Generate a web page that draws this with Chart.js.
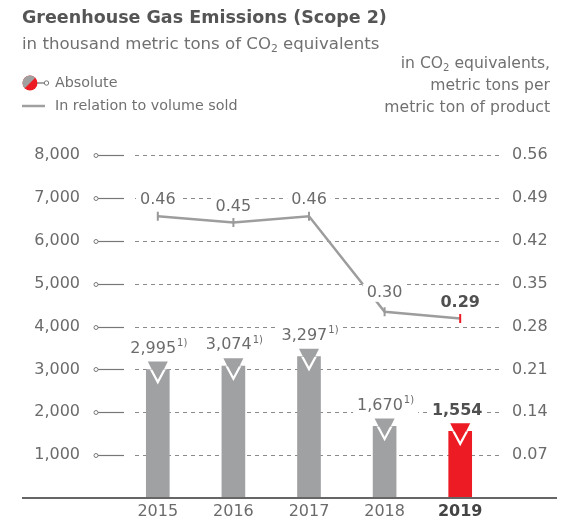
<!DOCTYPE html>
<html>
<head>
<meta charset="utf-8">
<script src="https://cdn.jsdelivr.net/npm/chart.js@4"></script>
<style>
  html, body { margin:0; padding:0; background:#fff; }
  body { width:566px; height:524px; position:relative; overflow:hidden; font-family: "DejaVu Sans", sans-serif; }
  #wrap { position:absolute; left:0; top:0; width:566px; height:524px; }
  canvas { display:block; }
  .t { position:absolute; white-space:nowrap; color:#707070; }
  #title { left:22px; top:7px; font-size:17.5px; font-weight:700; color:#555; }
  #sub { left:22px; top:34px; font-size:16.6px; }
  #leg1 { left:55px; top:74px; font-size:14.3px; }
  #leg2 { left:55px; top:97px; font-size:14.3px; }
  .r { right:16px; font-size:15.6px; text-align:right; }
  sub { font-size:0.65em; vertical-align:-0.25em; line-height:0; }
  svg { position:absolute; }
</style>
</head>
<body>
<div id="wrap"><canvas id="c" width="566" height="524"></canvas></div>
<div class="t" id="title">Greenhouse Gas Emissions (Scope 2)</div>
<div class="t" id="sub">in thousand metric tons of CO<sub>2</sub> equivalents</div>
<svg style="left:18px;top:73px" width="36" height="20">
  <defs><clipPath id="cc"><circle cx="12" cy="10" r="7.5"/></clipPath></defs>
  <g clip-path="url(#cc)">
    <rect x="0" y="0" width="30" height="20" fill="#ed1c24"/>
    <polygon points="0,0 24,0 0,24" fill="#a0a0a0" transform="translate(0,-2)"/>
  </g>
  <line x1="19" y1="10" x2="26" y2="10" stroke="#777" stroke-width="1.3"/>
  <circle cx="28.5" cy="10" r="2.2" fill="#fff" stroke="#777" stroke-width="1"/>
</svg>
<div class="t" id="leg1">Absolute</div>
<svg style="left:22px;top:100px" width="26" height="12">
  <line x1="0" y1="6" x2="23" y2="6" stroke="#a0a0a0" stroke-width="2.5"/>
</svg>
<div class="t" id="leg2">In relation to volume sold</div>
<div class="t r" style="top:54px">in CO<sub>2</sub> equivalents,</div>
<div class="t r" style="top:76px">metric tons per</div>
<div class="t r" style="top:98px">metric ton of product</div>
<script>
const years = ['2015', '2016', '2017', '2018', '2019'];
const absolute = [2995, 3074, 3297, 1670, 1554];
const absoluteNotes = ['1)', '1)', '1)', '1)', ''];
const relative = [0.46, 0.45, 0.46, 0.304, 0.293];
const leftTicks = [1000, 2000, 3000, 4000, 5000, 6000, 7000, 8000];
const rightTicks = [0.07, 0.14, 0.21, 0.28, 0.35, 0.42, 0.49, 0.56];

const GRAY = '#a0a1a3';
const RED = '#ed1c24';
const TXT = '#6b6b6b';
const FONT = '"DejaVu Sans", sans-serif';

const barColors = years.map((y, i) => i === years.length - 1 ? RED : GRAY);
const pointColors = years.map((y, i) => i === years.length - 1 ? RED : '#999');

const deco = {
  id: 'deco',
  beforeDatasetsDraw(chart) {
    const ctx = chart.ctx, y = chart.scales.y;
    ctx.save();
    leftTicks.forEach(v => {
      const py = Math.round(y.getPixelForValue(v)) + 0.5;
      ctx.strokeStyle = '#8a8a8a'; ctx.lineWidth = 1; ctx.setLineDash([4, 4]);
      ctx.beginPath(); ctx.moveTo(135, py); ctx.lineTo(503, py); ctx.stroke();
      ctx.setLineDash([]);
      ctx.strokeStyle = '#777'; ctx.lineWidth = 1.2;
      ctx.beginPath(); ctx.moveTo(98, py); ctx.lineTo(124, py); ctx.stroke();
      ctx.beginPath(); ctx.arc(96, py, 2, 0, Math.PI * 2);
      ctx.fillStyle = '#fff'; ctx.fill(); ctx.lineWidth = 1; ctx.stroke();
    });
    ctx.restore();
  },
  afterDatasetsDraw(chart) {
    const ctx = chart.ctx;
    const barMeta = chart.getDatasetMeta(0);
    const lineMeta = chart.getDatasetMeta(1);
    const base = chart.scales.y.getPixelForValue(0);
    ctx.save();
    ctx.strokeStyle = '#666'; ctx.lineWidth = 2;
    ctx.beginPath(); ctx.moveTo(22, base); ctx.lineTo(557, base); ctx.stroke();
    barMeta.data.forEach((el, i) => {
      const cx = el.x, top = el.y;
      ctx.fillStyle = barColors[i];
      ctx.beginPath();
      ctx.moveTo(cx - 10, top - 8); ctx.lineTo(cx + 10, top - 8); ctx.lineTo(cx, top + 12);
      ctx.closePath(); ctx.fill();
      ctx.save();
      ctx.beginPath(); ctx.rect(el.x - 20, top, 40, 40); ctx.clip();
      ctx.strokeStyle = '#fff'; ctx.lineWidth = 2.2; ctx.lineJoin = 'miter';
      ctx.beginPath();
      ctx.moveTo(cx - 11, top - 8); ctx.lineTo(cx, top + 12.5); ctx.lineTo(cx + 11, top - 8);
      ctx.stroke();
      ctx.restore();
    });
    ctx.textBaseline = 'middle';
    barMeta.data.forEach((el, i) => {
      const last = i === years.length - 1;
      const main = absolute[i].toLocaleString('en-US');
      const mainFont = (last ? 'bold ' : '') + '16px ' + FONT;
      const supFont = '10px ' + FONT;
      ctx.font = mainFont; const w1 = ctx.measureText(main).width;
      ctx.font = supFont; const w2 = absoluteNotes[i] ? ctx.measureText(absoluteNotes[i]).width + 1 : 0;
      const total = w1 + w2;
      const cy = el.y - 21;
      const x0 = el.x + (last ? -4 : 0) - total / 2 + 1;
      ctx.fillStyle = '#fff';
      ctx.fillRect(x0 - 4, cy - 9, total + 8, 18);
      ctx.textAlign = 'left';
      ctx.font = mainFont; ctx.fillStyle = last ? '#505050' : TXT;
      ctx.fillText(main, x0, cy);
      if (absoluteNotes[i]) {
        ctx.font = supFont; ctx.fillStyle = TXT;
        ctx.fillText(absoluteNotes[i], x0 + w1 + 1, cy - 5);
      }
    });
    lineMeta.data.forEach((el, i) => {
      const last = i === years.length - 1;
      const txt = relative[i].toFixed(2);
      ctx.font = (last ? 'bold ' : '') + '16px ' + FONT;
      const w = ctx.measureText(txt).width;
      const cy = el.y - (i === 3 ? 19 : 16);
      ctx.fillStyle = '#fff';
      ctx.fillRect(el.x - w / 2 - 4, cy - 9, w + 8, 18);
      ctx.textAlign = 'center';
      ctx.fillStyle = last ? '#505050' : TXT;
      ctx.fillText(txt, el.x, cy);
    });
    ctx.restore();
  }
};

new Chart(document.getElementById('c'), {
  data: {
    labels: years,
    datasets: [
      {
        type: 'bar', data: absolute, yAxisID: 'y', order: 2,
        backgroundColor: barColors, barThickness: 23, borderWidth: 0
      },
      {
        type: 'line', data: relative, yAxisID: 'y1', order: 1,
        borderColor: '#9d9d9d', borderWidth: 2.5, tension: 0,
        pointStyle: 'line', rotation: 90, pointRadius: 4.5, pointBorderWidth: 2,
        pointBorderColor: pointColors, pointBackgroundColor: pointColors
      }
    ]
  },
  options: {
    responsive: false, animation: false,
    layout: { padding: { top: 155, left: 0, right: 0, bottom: 0 } },
    plugins: { legend: { display: false }, tooltip: { enabled: false } },
    scales: {
      x: {
        grid: { display: false, drawTicks: false }, border: { display: false },
        offset: true,
        ticks: {
          padding: 4,
          font: ctx => ({ family: FONT, size: 16, weight: ctx.index === years.length - 1 ? 'bold' : 'normal' }),
          color: ctx => ctx.index === years.length - 1 ? '#444' : TXT
        },
        afterFit(s) { s.height = 26; s.paddingTop = 0; s.paddingBottom = 0; }
      },
      y: {
        position: 'left', min: 0, max: 8000,
        afterBuildTicks(s) { s.ticks = leftTicks.map(v => ({ value: v })); },
        grid: { display: false, drawTicks: false }, border: { display: false },
        ticks: { padding: 40, color: TXT, font: { family: FONT, size: 16 },
          callback: v => v.toLocaleString('en-US') },
        afterFit(s) { s.width = 120; s.paddingTop = 0; s.paddingBottom = 0; }
      },
      y1: {
        position: 'right', min: 0, max: 0.56,
        afterBuildTicks(s) { s.ticks = rightTicks.map(v => ({ value: v })); },
        grid: { display: false, drawTicks: false }, border: { display: false },
        ticks: { padding: 14, color: TXT, font: { family: FONT, size: 16 },
          callback: v => Number(v).toFixed(2) },
        afterFit(s) { s.width = 68; s.paddingTop = 0; s.paddingBottom = 0; }
      }
    }
  },
  plugins: [deco]
});
</script>
</body>
</html>
